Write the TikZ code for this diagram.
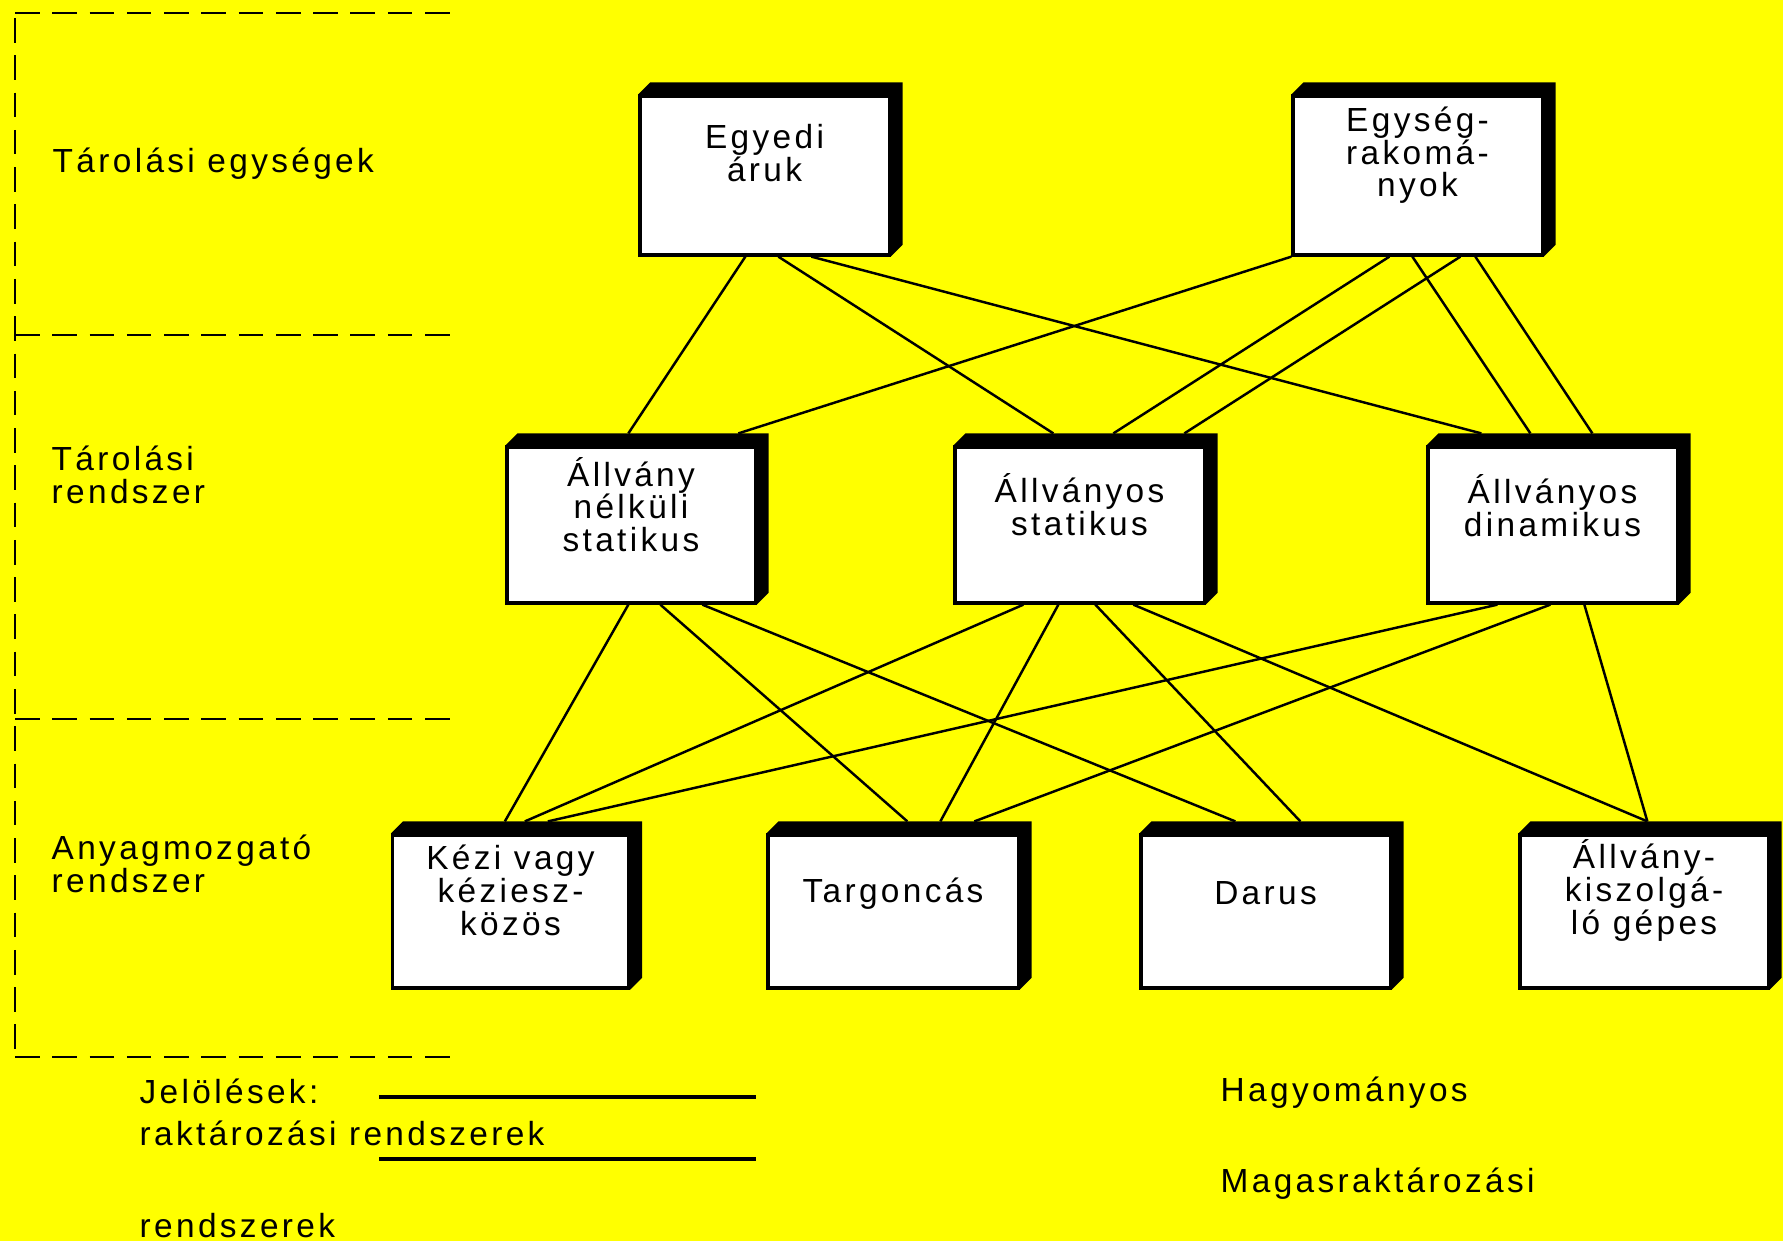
\documentclass[tikz,border=0pt]{standalone}
\usepackage{fontspec}
\setmainfont{Liberation Sans}[LetterSpace=10]
\usetikzlibrary{calc}
\pgfdeclarelayer{bglayer}
\pgfdeclarelayer{shadowlayer}
\pgfsetlayers{bglayer,shadowlayer,main}
\definecolor{bgyellow}{RGB}{255,255,0}
\tikzset{
  diagfont/.style={font=\fontsize{9.5}{9.3}\selectfont},
  box/.style={draw=black, fill=white, line width=0.9pt, rectangle, inner sep=0pt},
  boxtxt/.style={diagfont, align=center, inner sep=0pt},
  sidelbl/.style={diagfont, align=left, anchor=base west, inner sep=0pt},
  conn/.style={line width=0.7pt},
  sepline/.style={line width=0.8pt, dash pattern=on 7pt off 3.6pt},
  legline/.style={line width=0.9pt},
}
\newcommand\boxshadow[1]{\fill[black] (#1.north west) -- ++(12,12) -- ($(#1.north east)+(12,12)$) -- ($(#1.south east)+(12,12)$) -- (#1.south east) -- cycle;}
\newcommand\linkbox[4]{\draw[conn] ($(#1.south west)+(#2,0)$) -- ($(#3.north west)+(#4,12)$);}
\begin{document}
\begin{tikzpicture}[x=0.01cm,y=0.01cm]
\begin{pgfonlayer}{bglayer}
\fill[bgyellow] (0,0) rectangle (1783,-1241);
\end{pgfonlayer}
\useasboundingbox (0,0) rectangle (1783,-1241);

% separators
\draw[sepline] (15,-13) -- (455,-13);
\draw[sepline] (15,-18) -- (15,-1057);
\draw[sepline] (15,-335) -- (455,-335);
\draw[sepline] (15,-719) -- (455,-719);
\draw[sepline] (15,-1057) -- (455,-1057);

% side labels
\node[sidelbl] (l1) at (52,-172) {Tárolási egységek};
\node[sidelbl] (l2) at (51,-503) {Tárolási\\rendszer};
\node[sidelbl] (l3) at (51,-892) {Anyagmozgató\\rendszer};

% boxes
\node[box, minimum width=2.49cm, minimum height=1.59cm] (e1) at (764.5,-175.5) {};
\node[box, minimum width=2.49cm, minimum height=1.59cm] (e2) at (1417.5,-175.5) {};
\node[box, minimum width=2.48cm, minimum height=1.56cm] (m1) at (631,-525) {};
\node[box, minimum width=2.49cm, minimum height=1.56cm] (m2) at (1079.5,-525) {};
\node[box, minimum width=2.49cm, minimum height=1.56cm] (m3) at (1552.5,-525) {};
\node[box, minimum width=2.36cm, minimum height=1.53cm] (b1) at (510.5,-911.5) {};
\node[box, minimum width=2.50cm, minimum height=1.53cm] (b2) at (893,-911.5) {};
\node[box, minimum width=2.49cm, minimum height=1.53cm] (b3) at (1265.5,-911.5) {};
\node[box, minimum width=2.48cm, minimum height=1.53cm] (b4) at (1644,-911.5) {};

\begin{pgfonlayer}{shadowlayer}
\foreach \n in {e1,e2,m1,m2,m3,b1,b2,b3,b4}{\boxshadow{\n}}
\end{pgfonlayer}

% box texts
\node[boxtxt] (e1t) at ($(e1.north)+(0,-59)$) {Egyedi\\áruk};
\node[boxtxt] (e2t) at ($(e2.north)+(0,-61)$) {Egység-\\rakomá-\\nyok};
\node[boxtxt] (m1t) at ($(m1.north)+(0,-59)$) {Állvány\\nélküli\\statikus};
\node[boxtxt] (m2t) at ($(m2.north)+(0,-59)$) {Állványos\\statikus};
\node[boxtxt] (m3t) at ($(m3.north)+(0,-60)$) {Állványos\\dinamikus};
\node[boxtxt] (b1t) at ($(b1.north)+(0,-57)$) {Kézi vagy\\kéziesz-\\közös};
\node[boxtxt] (b2t) at ($(b2.north)+(0,-60)$) {Targoncás};
\node[boxtxt] (b3t) at ($(b3.north)+(0,-60)$) {Darus};
\node[boxtxt] (b4t) at ($(b4.north)+(0,-57)$) {Állvány-\\kiszolgá-\\ló gépes};

% connectors top -> middle
\linkbox{e1}{107}{m1}{123}
\linkbox{e1}{140}{m2}{100}
\linkbox{e1}{173}{m3}{55}
\linkbox{e2}{0}{m1}{233}
\linkbox{e2}{98}{m2}{160}
\linkbox{e2}{169}{m2}{231}
\linkbox{e2}{121}{m3}{104}
\linkbox{e2}{184}{m3}{166}

% connectors middle -> bottom
\linkbox{m1}{123}{b1}{114}
\linkbox{m1}{155}{b2}{141}
\linkbox{m1}{197}{b3}{96}
\linkbox{m2}{70}{b1}{134}
\linkbox{m2}{105}{b2}{174}
\linkbox{m2}{142}{b3}{161}
\linkbox{m2}{180}{b4}{129}
\linkbox{m3}{71}{b1}{157}
\linkbox{m3}{124}{b2}{208}
\linkbox{m3}{158}{b4}{129}

% legend
\node[sidelbl] (j1) at (139,-1103) {Jelölések:};
\node[sidelbl] (j2) at (139,-1145) {raktározási rendszerek};
\node[sidelbl] (j3) at (139,-1237) {rendszerek};
\node[sidelbl] (h1) at (1220,-1101) {Hagyományos};
\node[sidelbl] (h2) at (1220,-1192) {Magasraktározási};
\coordinate (k1a) at (379,-1097);
\coordinate (k1b) at (756,-1097);
\coordinate (k2a) at (379,-1159);
\coordinate (k2b) at (756,-1159);
\draw[legline] (k1a) -- (k1b);
\draw[legline] (k2a) -- (k2b);
\end{tikzpicture}
\end{document}
